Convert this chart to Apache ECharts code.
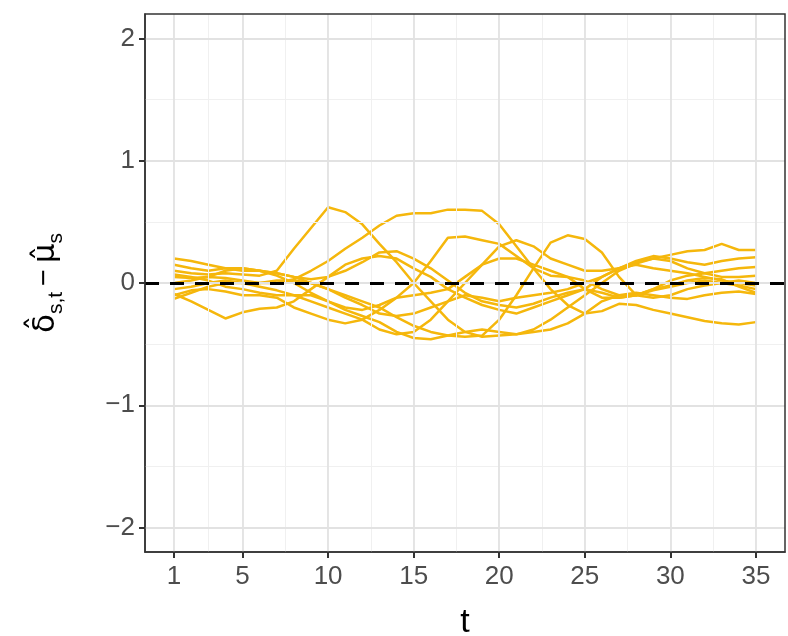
<!DOCTYPE html>
<html><head><meta charset="utf-8">
<script src="https://cdn.jsdelivr.net/npm/echarts@6/dist/echarts.min.js"></script>
<style>html,body{margin:0;padding:0;background:#fff}#c{width:788px;height:636px}</style>
</head><body><div id="c"></div>
<script>
const t = [1,2,3,4,5,6,7,8,9,10,11,12,13,14,15,16,17,18,19,20,21,22,23,24,25,26,27,28,29,30,31,32,33,34,35];
const xTicks = [1,5,10,15,20,25,30,35];
const xMinor = [3,7.5,12.5,17.5,22.5,27.5,32.5];
const yTicks = [-2,-1,0,1,2];
const yMinor = [-1.5,-0.5,0.5,1.5];

const s1 = [0.10,0.08,0.07,0.08,0.07,0.06,0.10,0.28,0.45,0.62,0.58,0.48,0.32,0.17,0.00,-0.15,-0.30,-0.40,-0.44,-0.43,-0.42,-0.40,-0.38,-0.33,-0.25,-0.15,-0.10,-0.08,-0.10,-0.12,-0.13,-0.10,-0.08,-0.07,-0.09];
const s2 = [0.05,0.04,0.05,0.04,0.02,0.00,0.00,0.03,0.10,0.18,0.28,0.37,0.47,0.55,0.57,0.57,0.60,0.60,0.59,0.48,0.30,0.12,-0.05,-0.18,-0.25,-0.23,-0.17,-0.18,-0.22,-0.25,-0.28,-0.31,-0.33,-0.34,-0.32];
const s3 = [-0.10,-0.06,-0.05,-0.07,-0.10,-0.10,-0.12,-0.20,-0.25,-0.30,-0.33,-0.30,-0.22,-0.12,0.00,0.18,0.37,0.38,0.35,0.32,0.22,0.12,0.06,0.05,0.02,-0.05,-0.10,-0.10,-0.06,-0.03,0.00,0.02,0.00,-0.02,-0.05];
const s4 = [0.20,0.18,0.15,0.12,0.10,0.10,0.08,0.05,0.00,-0.05,-0.10,-0.15,-0.20,-0.28,-0.35,-0.40,-0.43,-0.44,-0.43,-0.30,-0.10,0.12,0.33,0.39,0.36,0.25,0.05,-0.10,-0.12,-0.10,-0.05,-0.02,0.00,0.02,0.00];
const s5 = [0.15,0.12,0.10,0.12,0.12,0.10,0.06,0.00,-0.08,-0.15,-0.22,-0.27,-0.32,-0.40,-0.45,-0.46,-0.43,-0.40,-0.38,-0.40,-0.42,-0.38,-0.30,-0.20,-0.10,0.00,0.10,0.16,0.20,0.23,0.26,0.27,0.32,0.27,0.27];
const s6 = [0.00,0.02,0.05,0.10,0.12,0.10,0.08,0.05,0.03,0.05,0.10,0.17,0.25,0.26,0.20,0.12,0.02,-0.08,-0.15,-0.18,-0.20,-0.17,-0.12,-0.08,-0.05,-0.08,-0.12,-0.10,-0.05,0.02,0.06,0.08,0.10,0.12,0.13];
const s7 = [-0.13,-0.08,-0.03,0.00,0.00,-0.03,-0.06,-0.10,-0.15,-0.20,-0.25,-0.30,-0.38,-0.42,-0.40,-0.30,-0.15,0.00,0.15,0.30,0.35,0.30,0.20,0.15,0.10,0.10,0.12,0.17,0.20,0.18,0.12,0.08,0.05,0.05,0.06];
const s8 = [-0.09,-0.15,-0.22,-0.29,-0.24,-0.21,-0.20,-0.15,-0.05,0.05,0.15,0.20,0.22,0.20,0.12,0.05,-0.05,-0.12,-0.18,-0.22,-0.25,-0.20,-0.15,-0.10,-0.05,0.05,0.12,0.18,0.22,0.20,0.17,0.15,0.18,0.20,0.21];
const s9 = [0.07,0.05,0.02,-0.03,-0.05,-0.08,-0.10,-0.10,-0.10,-0.15,-0.20,-0.22,-0.18,-0.12,-0.10,-0.08,-0.05,0.05,0.15,0.20,0.20,0.15,0.10,0.05,-0.05,-0.12,-0.12,-0.10,-0.05,-0.02,0.02,0.04,0.03,-0.03,-0.08];
const s10 = [-0.05,-0.03,0.00,0.02,0.00,0.00,0.02,0.02,0.00,-0.05,-0.12,-0.18,-0.25,-0.27,-0.25,-0.20,-0.15,-0.10,-0.12,-0.15,-0.12,-0.10,-0.08,-0.05,0.00,0.05,0.12,0.15,0.12,0.10,0.08,0.05,0.02,0.00,-0.02];
const allSeries = [s1,s2,s3,s4,s5,s6,s7,s8,s9,s10];

const LINE = '#F5B70C';
const fmtY = v => v < 0 ? '\u2212' + Math.abs(v) : String(v);
const font = 'Liberation Sans, Arial, Helvetica, sans-serif';

const chart = echarts.init(document.getElementById('c'), null, {renderer: 'canvas'});

const gridLines = [];
xMinor.forEach(v => gridLines.push({xAxis: v, lineStyle: {color: '#f0f0f0', width: 1, type: 'solid'}}));
yMinor.forEach(v => gridLines.push({yAxis: v, lineStyle: {color: '#f0f0f0', width: 1, type: 'solid'}}));
xTicks.forEach(v => gridLines.push({xAxis: v, lineStyle: {color: '#e2e2e2', width: 1.8, type: 'solid'}}));
yTicks.forEach(v => gridLines.push({yAxis: v, lineStyle: {color: '#e2e2e2', width: 1.8, type: 'solid'}}));

const series = [{
  type: 'line', data: [], silent: true, z: 1,
  markLine: {silent: true, symbol: ['none','none'], label: {show: false}, animation: false, data: gridLines}
}];
allSeries.forEach(s => series.push({
  type: 'line', z: 3, silent: true, symbol: 'none', smooth: false,
  lineStyle: {color: LINE, width: 2.5},
  data: t.map((x, i) => [x, s[i]])
}));
series.push({
  type: 'line', data: [], silent: true, z: 5,
  markLine: {silent: true, symbol: ['none','none'], label: {show: false}, animation: false,
    data: [{yAxis: 0, lineStyle: {color: '#000', width: 3, type: [14, 11]}}]}
});

chart.setOption({
  animation: false,
  backgroundColor: '#fff',
  grid: {left: 145, right: 3, top: 14, bottom: 84, containLabel: false, outerBoundsMode: 'none',
         show: true, borderColor: '#333', borderWidth: 1.5, backgroundColor: 'transparent', z: 10},
  xAxis: {
    type: 'value', min: -0.7, max: 36.7,
    name: 't', nameLocation: 'middle', nameGap: 54,
    nameTextStyle: {fontSize: 34, color: '#000', fontFamily: font},
    axisLine: {show: true, onZero: false, lineStyle: {color: '#333', width: 1.5}},
    axisTick: {show: true, inside: false, customValues: xTicks, length: 6, lineStyle: {color: '#333', width: 2}},
    axisLabel: {customValues: xTicks, fontSize: 26, color: '#4d4d4d', fontFamily: font, margin: 12},
    splitLine: {show: false}
  },
  yAxis: {
    type: 'value', min: -2.2, max: 2.2,
    name: '{d|\u03B4\u0302}{sub|s,t}{n|\u2009\u2212\u2009}{d|\u03BC\u0302}{sub|s}',
    nameLocation: 'middle', nameGap: 84, nameRotate: 90,
    nameTextStyle: {
      color: '#000', fontFamily: font,
      rich: {
        d: {fontSize: 31, fontFamily: 'DejaVu Sans', color: '#000', verticalAlign: 'bottom'},
        n: {fontSize: 29, fontFamily: font, color: '#000', verticalAlign: 'bottom', padding: [0,0,2,0]},
        sub: {fontSize: 21, fontFamily: font, color: '#000', verticalAlign: 'bottom', padding: [0,0,-6,0]}
      }
    },
    axisLine: {show: true, onZero: false, lineStyle: {color: '#333', width: 1.5}},
    axisTick: {show: true, inside: false, customValues: yTicks, length: 6, lineStyle: {color: '#333', width: 2}},
    axisLabel: {customValues: yTicks, fontSize: 26, color: '#4d4d4d', fontFamily: font, margin: 10, formatter: fmtY},
    splitLine: {show: false}
  },
  series: series
});
</script></body></html>
